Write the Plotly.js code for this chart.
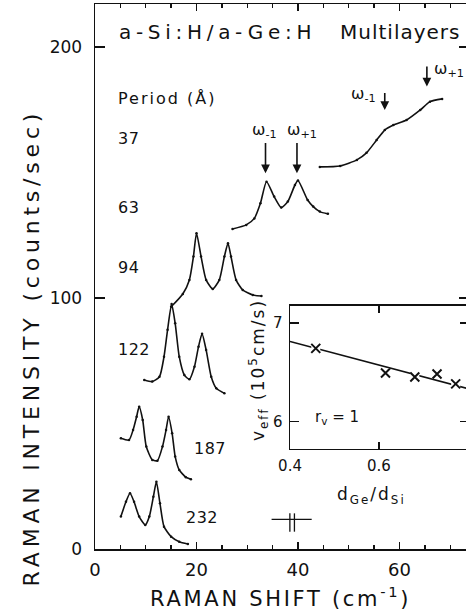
<!DOCTYPE html>
<html>
<head>
<meta charset="utf-8">
<script src="https://cdn.plot.ly/plotly-3.0.1.min.js"></script>
<style>
html, body { margin:0; padding:0; overflow:hidden; background:#fff; }
#chart { width:476px; height:615px; }
</style>
</head>
<body>
<div id="chart"></div>
<script>
// ---- Spectra (Raman shift cm^-1, intensity counts/sec incl. vertical offset) ----
const periods = ['37', '63', '94', '122', '187', '232'];
const s37x = [44.3, 48.3, 51.6, 53.5, 55.5, 57.1, 58.8, 61.4, 64.1, 66.0, 68.4];
const s37y = [152.2, 152.6, 155.0, 157.8, 162.9, 166.9, 168.9, 170.9, 174.9, 178.2, 179.3];
const s63x = [27.1, 29.8, 31.4, 32.6, 33.8, 35.3, 36.7, 38.0, 39.4, 40.0, 41.9, 43.0, 44.3, 45.9];
const s63y = [127.5, 129.1, 131.7, 137.7, 146.3, 140.4, 136.0, 138.4, 145.0, 146.8, 139.0, 136.4, 134.4, 133.5];
const s94x = [15.0, 17.3, 18.6, 19.4, 20.0, 20.9, 21.9, 23.2, 24.5, 25.5, 26.2, 26.8, 27.8, 29.1, 31.1, 32.8];
const s94y = [96.5, 101.6, 107.2, 116.5, 125.8, 116.5, 107.2, 103.6, 107.2, 116.5, 121.8, 116.5, 107.2, 103.2, 101.2, 100.8];
const s122x = [9.7, 11.3, 12.7, 13.6, 14.3, 15.1, 15.8, 16.6, 17.6, 18.6, 19.6, 20.4, 21.1, 21.9, 22.9, 23.9, 25.5];
const s122y = [67.3, 66.7, 68.6, 76.6, 87.3, 97.6, 89.9, 76.6, 69.3, 67.6, 72.6, 80.6, 85.7, 79.3, 68.6, 64.0, 62.0];
const s187x = [5.1, 6.7, 7.5, 8.2, 8.7, 9.4, 10.1, 11.3, 12.3, 13.3, 14.0, 14.5, 15.2, 15.8, 16.6, 17.9, 18.9];
const s187y = [44.1, 43.4, 47.4, 52.7, 56.7, 51.4, 40.8, 35.5, 35.2, 40.8, 47.4, 52.7, 46.1, 36.8, 31.5, 28.6, 27.8];
const s232x = [5.1, 6.1, 6.9, 7.7, 8.7, 9.9, 10.7, 11.5, 12.1, 12.8, 13.6, 15.0, 16.6, 18.3];
const s232y = [12.9, 18.8, 22.2, 18.8, 12.9, 9.6, 12.9, 20.8, 26.8, 18.2, 8.9, 4.9, 2.9, 2.0];

// Period label positions (x, y in data units)
const periodLabelX = [4.15, 4.15, 4.15, 4.15, 19.2, 17.6];
const periodLabelY = [163.7, 135.9, 112.0, 79.3, 40.2, 12.4];

// Fold mode arrows: [x, tipY, tailY]
const arrows63 = [[33.6, 149.7, 162.3], [39.8, 149.7, 162.3]];
const arrows37 = [[57.1, 174.9, 182.2], [65.4, 184.2, 192.8]];

// Axis ticks
const xLabelTicks = [0, 20, 40, 60];
const xOtherMajorTicks = [10, 30, 50, 70];
const yTicks = [0, 100, 200];
const insetXTicks = [0.4, 0.6];
const insetYTicks = [6, 7];

// ---- Inset: effective sound velocity vs d_Ge/d_Si ----
const ratio = [0.458, 0.615, 0.681, 0.731, 0.773];
const veff = [6.74, 6.49, 6.45, 6.48, 6.38];
const fitX = [0.40, 0.81];
const fitY = [6.81, 6.32];

// Resolution marker (data units)
const resX = [34.8, 42.7], resY = 11.8, resBars = [38.4, 39.3], resBarY = [6.9, 14.2];

const INK = '#111';
const FONT = 'DejaVu Sans';
const sp = (t, ls, fs) => '<span style="letter-spacing:' + ls + 'px;font-size:' + fs + 'px">' + t + '</span>';

const series = [[s37x, s37y], [s63x, s63y], [s94x, s94y], [s122x, s122y], [s187x, s187y], [s232x, s232y]];
const traces = series.map((s, i) => ({
  x: s[0], y: s[1], name: periods[i], type: 'scatter', mode: 'lines+markers',
  xaxis: 'x', yaxis: 'y',
  line: {color: INK, width: 1.6, shape: 'spline', smoothing: 0.6},
  marker: {color: INK, size: 2.5},
  hoverinfo: 'skip'
}));
traces.push({x: fitX, y: fitY, xaxis: 'x2', yaxis: 'y2', mode: 'lines', type: 'scatter',
  line: {color: INK, width: 1.6}, hoverinfo: 'skip'});
traces.push({x: ratio, y: veff, xaxis: 'x2', yaxis: 'y2', mode: 'markers', type: 'scatter',
  marker: {symbol: 'square', size: 9, color: '#fff'}, hoverinfo: 'skip'});
traces.push({x: ratio, y: veff, xaxis: 'x2', yaxis: 'y2', mode: 'markers', type: 'scatter',
  marker: {symbol: 'x-thin', size: 9, color: INK, line: {color: INK, width: 2}}, hoverinfo: 'skip'});

const ann = [];
const txt = (x, y, text, size, opts) => ann.push(Object.assign({
  x: x, y: y, xref: 'x', yref: 'y', text: text, showarrow: false,
  xanchor: 'left', yanchor: 'middle', font: {family: FONT, size: size, color: INK}
}, opts || {}));

txt(4.35, 206, sp('a-Si:H/a-Ge:H', 4.7, 20), 20);
txt(47.9, 206, sp('Multilayers', 1, 20), 20);
txt(4.15, 179.3, sp('Period (Å)', 2, 16), 16);
periods.forEach((p, i) => txt(periodLabelX[i], periodLabelY[i], sp(p, 0.5, 16), 16));

// omega labels
txt(33.4, 166.9, 'ω<sub>-1</sub>', 16, {xanchor: 'center'});
txt(40.7, 166.9, 'ω<sub>+1</sub>', 16, {xanchor: 'center'});
txt(53.0, 180.9, 'ω<sub>-1</sub>', 16, {xanchor: 'center'});
txt(69.7, 191.2, 'ω<sub>+1</sub>', 16, {xanchor: 'center'});

arrows63.concat(arrows37).forEach(a => ann.push({
  x: a[0], y: a[1], ax: a[0], ay: a[2], xref: 'x', yref: 'y', axref: 'x', ayref: 'y',
  text: '', showarrow: true, arrowhead: 2, arrowsize: 1.1, arrowwidth: 1.6, arrowcolor: INK,
  font: {family: FONT, size: 12, color: INK}
}));

// axis titles
ann.push({xref: 'paper', yref: 'paper', x: 0.4947, y: -0.088, showarrow: false,
  xanchor: 'center', yanchor: 'middle', text: sp('RAMAN SHIFT (cm<sup>-1</sup>)', 2.7, 21),
  font: {family: FONT, size: 21, color: INK}});
ann.push({xref: 'paper', yref: 'paper', x: -0.171, y: 0.37, showarrow: false, textangle: -90,
  xanchor: 'center', yanchor: 'middle', text: sp('RAMAN INTENSITY (counts/sec)', 4.8, 22),
  font: {family: FONT, size: 22, color: INK}});

// inset texts (paper coordinates of the main plot area)
ann.push({xref: 'paper', yref: 'paper', x: 0.648, y: 0.2422, showarrow: false, xanchor: 'center', yanchor: 'middle',
  text: 'r<sub>v</sub> = 1', font: {family: FONT, size: 15, color: INK}});
ann.push({xref: 'paper', yref: 'paper', x: 0.738, y: 0.099, showarrow: false, xanchor: 'center', yanchor: 'middle',
  text: sp('d<sub>Ge</sub>/d<sub>Si</sub>', 2, 17), font: {family: FONT, size: 17, color: INK}});
ann.push({xref: 'paper', yref: 'paper', x: 0.436, y: 0.3284, showarrow: false, textangle: -90,
  xanchor: 'center', yanchor: 'middle',
  text: sp('v<sub>eff</sub> (10<sup>5</sup>cm/s)', 2, 17), font: {family: FONT, size: 17, color: INK}});

const shapes = [
  {type: 'line', xref: 'x', yref: 'y', x0: resX[0], x1: resX[1], y0: resY, y1: resY, line: {color: INK, width: 1.3}},
  {type: 'line', xref: 'x', yref: 'y', x0: resBars[0], x1: resBars[0], y0: resBarY[0], y1: resBarY[1], line: {color: INK, width: 1.3}},
  {type: 'line', xref: 'x', yref: 'y', x0: resBars[1], x1: resBars[1], y0: resBarY[0], y1: resBarY[1], line: {color: INK, width: 1.3}}
];

const axBase = {showgrid: false, zeroline: false, showline: true, linecolor: INK, linewidth: 1.5,
  ticks: 'inside', tickcolor: INK, tickwidth: 1.5, mirror: 'ticks'};

const layout = {
  width: 476, height: 615,
  margin: {l: 95, r: 7, t: 4, b: 66},
  paper_bgcolor: '#fff', plot_bgcolor: 'rgba(0,0,0,0)',
  showlegend: false,
  font: {family: FONT, color: INK},
  xaxis: Object.assign({}, axBase, {
    range: [0, 73.7], tickvals: xLabelTicks, ticklen: 7,
    tickfont: {family: FONT, size: 18, color: INK}, ticklabelstandoff: 4,
    minor: {dtick: 5, tick0: 0, ticks: 'inside', ticklen: 4, tickwidth: 1.3, tickcolor: INK, showgrid: false},
    domain: [0, 1], anchor: 'y'
  }),
  xaxis3: Object.assign({}, axBase, {
    range: [0, 73.7], tickvals: xOtherMajorTicks, ticklen: 7, showticklabels: false,
    overlaying: 'x', anchor: 'y', domain: [0, 1]
  }),
  yaxis: Object.assign({}, axBase, {
    range: [0, 217.1], tickvals: yTicks, ticklen: 10,
    tickfont: {family: FONT, size: 17, color: INK}, ticklabelstandoff: 8,
    domain: [0, 1], anchor: 'x'
  }),
  xaxis2: Object.assign({}, axBase, {
    range: [0.4, 0.803], tickvals: insetXTicks, ticklen: 7, tickformat: '.1f',
    tickfont: {family: FONT, size: 15, color: INK}, ticklabelstandoff: 3,
    domain: [0.5214, 1], anchor: 'y2'
  }),
  yaxis2: Object.assign({}, axBase, {
    range: [5.72, 7.17], tickvals: insetYTicks, ticklen: 9,
    tickfont: {family: FONT, size: 15, color: INK}, ticklabelstandoff: 3,
    domain: [0.1835, 0.4459], anchor: 'x2'
  }),
  annotations: ann,
  shapes: shapes
};

Plotly.newPlot('chart', traces, layout, {staticPlot: true, displayModeBar: false});
</script>
</body>
</html>
